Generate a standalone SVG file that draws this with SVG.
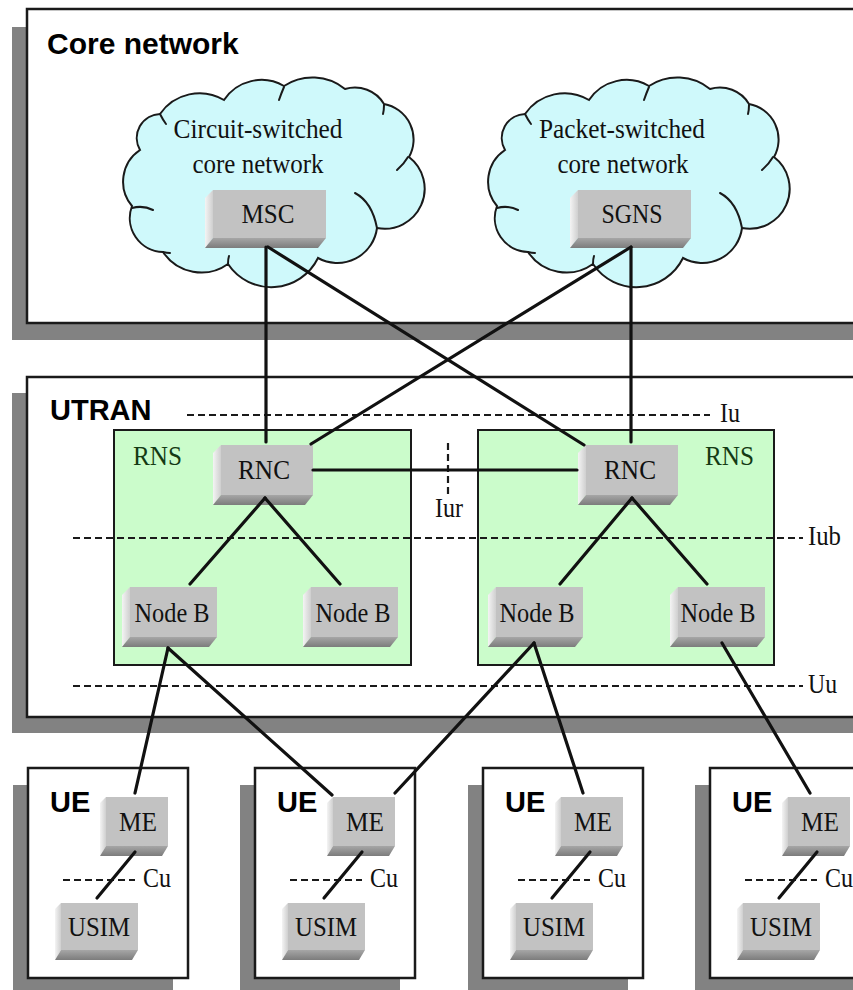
<svg xmlns="http://www.w3.org/2000/svg" width="853" height="990" viewBox="0 0 853 990">
  <defs>
    <style>
      .frame{fill:#fff;stroke:#1a1a1a;stroke-width:2.5}
      .shadow{fill:#828282}
      .title{font-family:"Liberation Sans",Arial,sans-serif;font-weight:bold;font-size:29px;fill:#000}
      .lbl{font-family:"Liberation Serif","Times New Roman",serif;font-size:27.5px;fill:#111}
      .mid{text-anchor:middle}
      .rns{fill:#cbfccb;stroke:#1a1a1a;stroke-width:2}
      .rnslbl{fill:#143a14}
      .cloud{fill:#cff9fb;stroke:#1a1a1a;stroke-width:2}
      .cloud-in{fill:none;stroke:#1a1a1a;stroke-width:2;stroke-linecap:round}
      .iface{fill:none;stroke:#1a1a1a;stroke-width:2.2;stroke-dasharray:7 4}
      .link{fill:none;stroke:#111;stroke-width:3.2;stroke-linecap:round}
      .face{fill:#c2c2c2}
      .side{fill:url(#gSide)}
      .base{fill:url(#gBase)}
    </style>
    <linearGradient id="gSide" x1="0" y1="0" x2="1" y2="0">
      <stop offset="0" stop-color="#f4f4f4"/>
      <stop offset="1" stop-color="#cfcfcf"/>
    </linearGradient>
    <linearGradient id="gBase" x1="0" y1="0" x2="0" y2="1">
      <stop offset="0" stop-color="#a6a6a6"/>
      <stop offset="1" stop-color="#7c7c7c"/>
    </linearGradient>

    <!-- bevelled equipment boxes, one per size -->
    <g id="bx-core">
      <rect class="face" x="8" y="0" width="113" height="48"/>
      <polygon class="side" points="0,8 8,0 8,48 0,58"/>
      <polygon class="base" points="0,58 8,48 121,48 113,58"/>
    </g>
    <g id="bx-rnc">
      <rect class="face" x="8" y="0" width="92" height="50"/>
      <polygon class="side" points="0,8 8,0 8,50 0,60"/>
      <polygon class="base" points="0,60 8,50 100,50 92,60"/>
    </g>
    <g id="bx-nodeb">
      <rect class="face" x="8" y="0" width="87" height="50"/>
      <polygon class="side" points="0,8 8,0 8,50 0,60"/>
      <polygon class="base" points="0,60 8,50 95,50 87,60"/>
    </g>
    <g id="bx-me">
      <rect class="face" x="6" y="0" width="62" height="49"/>
      <polygon class="side" points="0,6 6,0 6,49 0,59"/>
      <polygon class="base" points="0,59 6,49 68,49 62,59"/>
    </g>
    <g id="bx-usim">
      <rect class="face" x="6" y="0" width="77" height="47"/>
      <polygon class="side" points="0,6 6,0 6,47 0,57"/>
      <polygon class="base" points="0,57 6,47 83,47 77,57"/>
    </g>

    <!-- cloud outline with its inner folds -->
    <g id="cloud-shape">
      <path class="cloud" d="M140,150 A24,24 0 0 1 160,114 A48,48 0 0 1 224,100 A45,45 0 0 1 284,86 A52,52 0 0 1 345,89 A34,34 0 0 1 384,104 A36,36 0 0 1 409,157 A40,40 0 0 1 377,228 A40,40 0 0 1 318,258 A52,52 0 0 1 228,264 A46,46 0 0 1 163,252 A34,34 0 0 1 132,206 A38,38 0 0 1 140,150 Z"/>
      <path class="cloud-in" d="M132,208 Q143,205 153,210"/>
      <path class="cloud-in" d="M284,87 Q281,94 279,100"/>
      <path class="cloud-in" d="M384,105 Q384,110 383,114"/>
      <path class="cloud-in" d="M397,170 Q404,164 408,157"/>
      <path class="cloud-in" d="M355,193 Q372,202 377,228"/>
      <path class="cloud-in" d="M228,264 Q228,259 229,256"/>
      <path class="cloud-in" d="M163,252 Q167,253 170,253"/>
      <path class="cloud-in" d="M160,114 Q163,120 166,124"/>
    </g>

    <!-- user equipment frame -->
    <g id="ue-frame">
      <rect class="shadow" x="13" y="785" width="160" height="210"/>
      <rect class="frame" x="28" y="768" width="160" height="210"/>
      <text class="title" x="50" y="812">UE</text>
      <path class="iface" d="M63,880 H135"/>
      <text class="lbl" x="143" y="887" textLength="28" lengthAdjust="spacingAndGlyphs">Cu</text>
    </g>
  </defs>

  <!-- domain frames -->
  <g id="core-network">
    <rect class="shadow" x="12" y="27" width="900" height="313"/>
    <rect class="frame" x="27" y="9" width="900" height="314"/>
    <text class="title" x="47" y="54" style="font-size:30px">Core network</text>
  </g>
  <g id="utran">
    <rect class="shadow" x="12" y="393" width="900" height="340"/>
    <rect class="frame" x="27" y="377" width="900" height="340"/>
    <text class="title" x="50" y="420">UTRAN</text>
  </g>
  <g id="ue-1"><use href="#ue-frame"/></g>
  <g id="ue-2"><use href="#ue-frame" transform="translate(227,0)"/></g>
  <g id="ue-3"><use href="#ue-frame" transform="translate(455,0)"/></g>
  <g id="ue-4"><use href="#ue-frame" transform="translate(682,0)"/></g>

  <!-- core network clouds -->
  <g id="cs-core">
    <use href="#cloud-shape"/>
    <text class="lbl mid" x="258" y="138" textLength="169" lengthAdjust="spacingAndGlyphs">Circuit-switched</text>
    <text class="lbl mid" x="258" y="173" textLength="131" lengthAdjust="spacingAndGlyphs">core network</text>
  </g>
  <g id="ps-core">
    <use href="#cloud-shape" transform="translate(365,0)"/>
    <text class="lbl mid" x="622" y="138" textLength="166" lengthAdjust="spacingAndGlyphs">Packet-switched</text>
    <text class="lbl mid" x="623" y="173" textLength="131" lengthAdjust="spacingAndGlyphs">core network</text>
  </g>

  <!-- radio network subsystems -->
  <g id="rns-1">
    <rect class="rns" x="114" y="430" width="297" height="235"/>
    <text class="lbl rnslbl" x="133" y="465" textLength="49" lengthAdjust="spacingAndGlyphs">RNS</text>
  </g>
  <g id="rns-2">
    <rect class="rns" x="478" y="430" width="296" height="235"/>
    <text class="lbl rnslbl" x="705" y="465" textLength="49" lengthAdjust="spacingAndGlyphs">RNS</text>
  </g>

  <!-- interface reference lines -->
  <g id="interfaces">
    <path class="iface" d="M187,415 H710"/>
    <text class="lbl" x="720" y="422" textLength="20" lengthAdjust="spacingAndGlyphs">Iu</text>
    <path class="iface" d="M448,443 V495"/>
    <text class="lbl mid" x="449" y="517" textLength="28" lengthAdjust="spacingAndGlyphs">Iur</text>
    <path class="iface" d="M73,538 H803"/>
    <text class="lbl" x="808" y="545" textLength="33" lengthAdjust="spacingAndGlyphs">Iub</text>
    <path class="iface" d="M73,686 H803"/>
    <text class="lbl" x="808" y="693" textLength="29" lengthAdjust="spacingAndGlyphs">Uu</text>
  </g>

  <!-- equipment -->
  <g id="msc"><use href="#bx-core" x="205" y="190"/><text class="lbl mid" x="268" y="223" textLength="53" lengthAdjust="spacingAndGlyphs">MSC</text></g>
  <g id="sgns"><use href="#bx-core" x="570" y="190"/><text class="lbl mid" x="632" y="223" textLength="61" lengthAdjust="spacingAndGlyphs">SGNS</text></g>
  <g id="rnc-1"><use href="#bx-rnc" x="213" y="445"/><text class="lbl mid" x="264" y="479" textLength="52" lengthAdjust="spacingAndGlyphs">RNC</text></g>
  <g id="rnc-2"><use href="#bx-rnc" x="578" y="445"/><text class="lbl mid" x="630" y="479" textLength="52" lengthAdjust="spacingAndGlyphs">RNC</text></g>
  <g id="nodeb-1"><use href="#bx-nodeb" x="122" y="587"/><text class="lbl mid" x="172" y="622" textLength="75" lengthAdjust="spacingAndGlyphs">Node B</text></g>
  <g id="nodeb-2"><use href="#bx-nodeb" x="303" y="587"/><text class="lbl mid" x="353" y="622" textLength="75" lengthAdjust="spacingAndGlyphs">Node B</text></g>
  <g id="nodeb-3"><use href="#bx-nodeb" x="488" y="587"/><text class="lbl mid" x="537" y="622" textLength="75" lengthAdjust="spacingAndGlyphs">Node B</text></g>
  <g id="nodeb-4"><use href="#bx-nodeb" x="670" y="587"/><text class="lbl mid" x="718" y="622" textLength="75" lengthAdjust="spacingAndGlyphs">Node B</text></g>

  <g id="me-1"><use href="#bx-me" x="100" y="797"/><text class="lbl mid" x="138" y="831" textLength="38" lengthAdjust="spacingAndGlyphs">ME</text></g>
  <g id="usim-1"><use href="#bx-usim" x="55" y="903"/><text class="lbl mid" x="99" y="936" textLength="62" lengthAdjust="spacingAndGlyphs">USIM</text></g>
  <g id="me-2"><use href="#bx-me" x="327" y="797"/><text class="lbl mid" x="365" y="831" textLength="38" lengthAdjust="spacingAndGlyphs">ME</text></g>
  <g id="usim-2"><use href="#bx-usim" x="282" y="903"/><text class="lbl mid" x="326" y="936" textLength="62" lengthAdjust="spacingAndGlyphs">USIM</text></g>
  <g id="me-3"><use href="#bx-me" x="555" y="797"/><text class="lbl mid" x="593" y="831" textLength="38" lengthAdjust="spacingAndGlyphs">ME</text></g>
  <g id="usim-3"><use href="#bx-usim" x="510" y="903"/><text class="lbl mid" x="554" y="936" textLength="62" lengthAdjust="spacingAndGlyphs">USIM</text></g>
  <g id="me-4"><use href="#bx-me" x="782" y="797"/><text class="lbl mid" x="820" y="831" textLength="38" lengthAdjust="spacingAndGlyphs">ME</text></g>
  <g id="usim-4"><use href="#bx-usim" x="737" y="903"/><text class="lbl mid" x="781" y="936" textLength="62" lengthAdjust="spacingAndGlyphs">USIM</text></g>

  <!-- links -->
  <g id="connectors" class="link">
    <line x1="266" y1="247" x2="266" y2="442"/>
    <line x1="268" y1="247" x2="584" y2="445"/>
    <line x1="631" y1="247" x2="311" y2="444"/>
    <line x1="631" y1="247" x2="631" y2="442"/>
    <line x1="313" y1="470" x2="577" y2="470"/>
    <line x1="265" y1="498" x2="190" y2="584"/>
    <line x1="265" y1="498" x2="340" y2="584"/>
    <line x1="632" y1="498" x2="560" y2="584"/>
    <line x1="632" y1="498" x2="707" y2="584"/>
    <line x1="168" y1="648" x2="135" y2="793"/>
    <line x1="168" y1="648" x2="332" y2="795"/>
    <line x1="534" y1="643" x2="395" y2="793"/>
    <line x1="534" y1="643" x2="583" y2="793"/>
    <line x1="722" y1="643" x2="810" y2="793"/>
    <line x1="135" y1="852" x2="97" y2="898"/>
    <line x1="362" y1="852" x2="324" y2="898"/>
    <line x1="590" y1="852" x2="552" y2="898"/>
    <line x1="817" y1="852" x2="779" y2="898"/>
  </g>
</svg>
